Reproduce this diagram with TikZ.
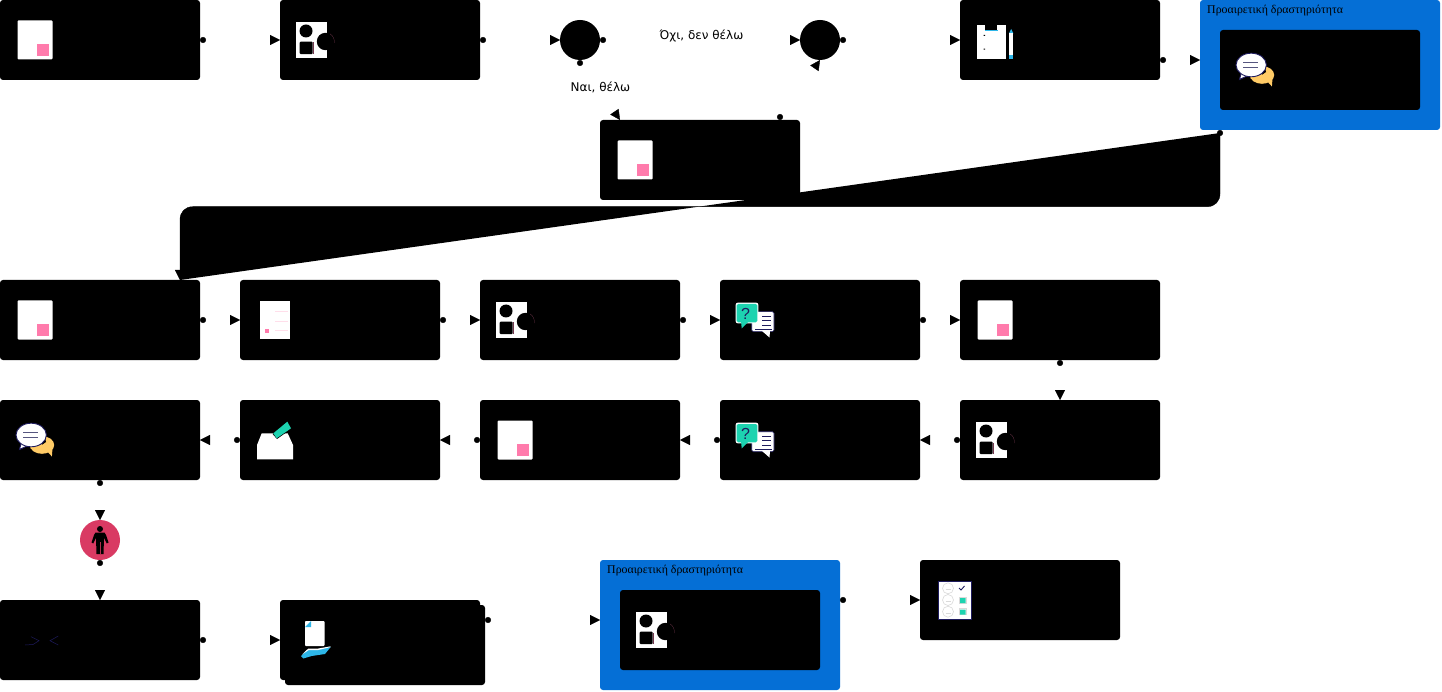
\documentclass[tikz,border=0pt]{standalone}
\usepackage{fontspec}
\setmainfont{Liberation Serif}
\newfontfamily\labelfont{DejaVu Sans}
\newfontfamily\qfont{Liberation Sans}
\usetikzlibrary{arrows.meta}
\definecolor{blueg}{HTML}{056FD6}
\definecolor{pinkq}{HTML}{FF7BAC}
\definecolor{tealq}{HTML}{1DD3B0}
\definecolor{navyq}{HTML}{1E1B5E}
\definecolor{slateq}{HTML}{55557F}
\definecolor{yelq}{HTML}{FFCB66}
\definecolor{skyq}{HTML}{2DB6E8}
\definecolor{roseq}{HTML}{D93A63}
\definecolor{faceq}{HTML}{DADADA}
\tikzset{
  box/.style={fill=black,rounded corners=3pt,minimum width=200pt,minimum height=80pt,inner sep=0pt,outer sep=0pt},
  disc/.style={circle,fill=black,minimum size=40pt,inner sep=0pt,outer sep=0pt},
  groupbox/.style={fill=blueg,rounded corners=3pt,inner sep=0pt,outer sep=0pt},
  grouplabel/.style={font=\fontsize{11.85}{14}\selectfont,text=black,inner sep=0pt,anchor=west},
  edgelabel/.style={font=\labelfont\fontsize{12}{14}\selectfont,text=black,inner sep=0pt},
  link/.style={draw=white,line width=.4pt,{Circle[black,length=6pt]}-{Triangle[black,length=10pt,width=10pt]}},
  biglink/.style={draw=black,line width=.4pt,{Circle[black,length=6pt]}-{Triangle[black,length=10pt,width=10pt]}},
}
% white sheet with a pink square
\newcommand{\icondoc}[2]{\begin{scope}[shift={(#1,#2)}]
  \fill[white,rounded corners=1pt] (17.5,20.5) rectangle (52.5,59.5);
  \fill[pinkq] (37,44) rectangle (49,55.8);
\end{scope}}
% sheet with circle and squares
\newcommand{\iconshapes}[2]{\begin{scope}[shift={(#1,#2)}]
  \fill[white] (15.7,21.7) rectangle (46.7,58.3);
  \fill[black] (26,31) circle (6.5);
  \draw[pinkq!45!black,line width=.25pt] (33,42.5) -- (33,54.4);
  \fill[black,rounded corners=1pt] (19.7,41.7) rectangle (32.7,54.2);
  \fill[black] (45.5,41.5) circle (8.7);
  \draw[pinkq!45!black,line width=.25pt] (54.2,43) arc (10:-60:8.8);
\end{scope}}
% two speech bubbles, white and yellow
\newcommand{\iconchat}[2]{\begin{scope}[shift={(#1,#2)}]
  \fill[yelq] (42,45) ellipse (12.2 and 8.8);
  \fill[yelq] (46,50) -- (51.9,56.5) -- (52.5,48) -- cycle;
  \fill[black] (24,39) -- (36,49) -- (46,42) -- (44,34) -- cycle;
  \fill[yelq] (30,48) -- (36,50) -- (42,50) -- (42,44) -- cycle;
  \fill[white,draw=navyq,line width=.9pt] (19.5,49.5) -- (21.5,42) -- (27,46) -- cycle;
  \fill[white,draw=navyq,line width=.9pt] (31.2,35) ellipse (15.2 and 11.8);
  \fill[white] (20.8,41) -- (26,45) -- (29,43) -- cycle;
  \draw[slateq,line width=1.3pt] (23.3,32.3) -- (38.3,32.3) (23.3,37.7) -- (38.3,37.7);
\end{scope}}
% question bubble and text bubble
\newcommand{\iconquest}[3]{\begin{scope}[shift={(#1,#2)}]
  \fill[white,draw=navyq,line width=.6pt,rounded corners=1.5pt] (31.7,31.7) rectangle (54,51.7);
  \fill[white] (42,51) -- (49.5,57.5) -- (50,51) -- cycle;
  \draw[navyq,line width=.9pt] (42,36) -- (51,36) (42,40.6) -- (51,40.6) (42,45) -- (51,45) (35,49) -- (51.7,49);
  \fill[white,rounded corners=2pt] (15.7,22.7) rectangle (38.3,43.3);
  \fill[tealq,rounded corners=1.5pt] (16.7,24) rectangle (37.3,42.3);
  \fill[tealq] (21,41) -- (21.7,48.3) -- (28,42) -- cycle;
  \node[font=\qfont\fontsize{16}{18}\selectfont,text=navyq,inner sep=0pt] (#3) at (25.5,33.5) {?};
\end{scope}}
\begin{document}
\begin{tikzpicture}[x=1pt,y=-1pt]
\useasboundingbox (0,0) rectangle (1442,692);
\fill[white] (0,0) rectangle (1442,692);
% row 1
\node[box] (b1) at (100,40) {};
\node[box] (b2) at (380,40) {};
\node[disc] (c1) at (580,40) {};
\node[disc] (c2) at (820,40) {};
\node[box] (b3) at (1060,40) {};
\node[groupbox,minimum width=240pt,minimum height=130pt] (g1) at (1320,65) {};
\node[box] (g1b) at (1320,70) {};
\node[box] (b4) at (700,160) {};
% row 2
\node[box] (b5) at (100,320) {};
\node[box] (b6) at (340,320) {};
\node[box] (b7) at (580,320) {};
\node[box] (b8) at (820,320) {};
\node[box] (b9) at (1060,320) {};
% row 3
\node[box] (b10) at (1060,440) {};
\node[box] (b11) at (820,440) {};
\node[box] (b12) at (580,440) {};
\node[box] (b13) at (340,440) {};
\node[box] (b14) at (100,440) {};
% person
\node[disc,fill=roseq] (p1) at (100,540) {};
% row 4
\node[box] (b15) at (100,640) {};
\node[box] (b16b) at (385,645) {};
\node[box] (b16) at (380,640) {};
\node[groupbox,minimum width=240pt,minimum height=130pt] (g2) at (720,625) {};
\node[box] (g2b) at (720,630) {};
\node[box] (b17) at (1020,600) {};
% big filled connector
\coordinate (bs) at (1220,130);
\coordinate (bt) at (180,280);
\fill (1220,133) -- (1220,193.7) [rounded corners=0pt] .. controls (1220,201) and (1215,206.7) .. (1207,206.7) -- (193,206.7) .. controls (185,206.7) and (180,212) .. (180,220) -- (bt) -- cycle;
\draw[biglink] (bs) -- (1220,193.7) .. controls (1220,201) and (1215,206.7) .. (1207,206.7) -- (193,206.7) .. controls (185,206.7) and (180,212) .. (180,220) -- (bt);
% icons
\icondoc{0}{0}
\iconshapes{280}{0}
\begin{scope}[shift={(960,0)}]
  \fill[white] (16.7,25) rectangle (46,59.3);
  \fill[black] (25,25) rectangle (36.7,30);
  \fill[skyq] (25,30) rectangle (37.5,31);
  \fill[black] (23.5,35) rectangle (25,36) (23.5,48.6) rectangle (25,49.6);
  \fill[skyq] (49,33.3) -- (51.2,29) -- (53.3,33.3) -- cycle;
  \fill[white] (49,33.3) rectangle (53.3,55);
  \fill[skyq] (49,55) rectangle (53.3,59.3);
\end{scope}
\iconchat{1220}{30}
\icondoc{600}{120}
\icondoc{0}{280}
\begin{scope}[shift={(240,280)}]
  \fill[white] (19.6,20.7) rectangle (50.4,59.3);
  \fill[pinkq] (24.7,49) rectangle (29,52.7);
  \draw[pinkq!25,line width=.3pt] (35,31.5) -- (48,31.5) (35,41) -- (48,41) (35,50) -- (48,50);
\end{scope}
\iconshapes{480}{280}
\iconquest{720}{280}{q1}
\icondoc{960}{280}
\iconshapes{960}{400}
\iconquest{720}{400}{q2}
\icondoc{480}{400}
\begin{scope}[shift={(240,400)}]
  \fill[white] (21.7,33.3) -- (47.7,33.3) -- (53,45) -- (53,59.3) -- (17,59.3) -- (17,45) -- cycle;
  \fill[black] (32.6,34) -- (47.8,21) -- (51.8,28.5) -- (37,39) -- cycle;
  \fill[tealq] (33.3,33.3) -- (47.3,21.7) -- (51,28.3) -- (36.7,38.3) -- cycle;
\end{scope}
\iconchat{0}{400}
% person
\begin{scope}[shift={(0,0)}]
  \fill[black] (100,529) circle (3);
  \fill[black] (95.5,532.5) -- (104.5,532.5) -- (106,535) -- (108.5,542.5) -- (106.8,543.5) -- (104,538) -- (103.5,554) -- (96.5,554) -- (96,538) -- (93.2,543.5) -- (91.5,542.5) -- (94,535) -- cycle;
  \draw[roseq!80!black,line width=.6pt] (100,542) -- (100,554);
\end{scope}
\draw[navyq,line width=.5pt] (25,645) -- (33,644.5) -- (39,640.7) -- (31,636.7);
\draw[navyq,line width=.5pt] (58.3,636) -- (50,640.7) -- (58.3,645);
% hand and document
\fill[white,rounded corners=.8pt] (305,621) rectangle (324.5,646);
\fill[skyq] (305,627) -- (311,621) -- (311,627) -- cycle;
\fill[skyq] (301,656) -- (308.3,649.3) -- (318.3,649.3) -- (330.7,647) -- (325,654) -- (311.7,656) -- (303.3,658.5) -- cycle;
\fill[white] (302,654.5) -- (308.3,648.5) -- (318.3,648.5) -- (330.7,646.3) -- (330.2,647.2) -- (318.3,650) -- (308.8,650) -- cycle;
\iconshapes{620}{590}
% rating list
\fill[white,draw=navyq,line width=.8pt] (938.5,581) rectangle (971.5,619);
\draw[faceq,line width=.6pt] (948,588.3) circle (5.5) (948,600) circle (5.5) (948,611.7) circle (5.5);
\draw[faceq,line width=.5pt] (945.5,589.5) -- (950.5,589.5) (945.5,601.2) -- (950.5,601.2) (945.5,612.9) -- (950.5,612.9);
\draw[navyq,line width=.9pt] (959,588) -- (961,590) -- (964.5,586);
\draw[faceq,line width=.4pt] (959.5,597) rectangle (965.7,603) (959.5,608.5) rectangle (965.7,614.5);
\fill[tealq] (960,598) rectangle (965.7,603) (960,609.5) rectangle (965.7,614.5);
% connectors
\draw[link] (b1.east) -- (b2.west);
\draw[link] (b2.east) -- (c1.west);
\draw[link] (c1.east) -- (c2.west);
\draw[link] (c2.east) -- (b3.west);
\draw[link] ([yshift=-20pt]b3.east) -- ([yshift=5pt]g1.west);
\draw[link] (c1.south) to[out=-90,in=124] ([xshift=-80pt]b4.north);
\draw[link] ([xshift=80pt]b4.north) to[out=90,in=236] (c2.south);
\draw[link] (b5.east) -- (b6.west);
\draw[link] (b6.east) -- (b7.west);
\draw[link] (b7.east) -- (b8.west);
\draw[link] (b8.east) -- (b9.west);
\draw[link] (b9.south) -- (b10.north);
\draw[link] (b10.west) -- (b11.east);
\draw[link] (b11.west) -- (b12.east);
\draw[link] (b12.west) -- (b13.east);
\draw[link] (b13.west) -- (b14.east);
\draw[link] (b14.south) -- (p1.north);
\draw[link] (p1.south) -- (b15.north);
\draw[link] (b15.east) -- (b16.west);
\draw[link] ([yshift=25pt]b16b.east) -- ([yshift=5pt]g2.west);
\draw[link] ([yshift=25pt]g2.east) -- (b17.west);
% labels
\node[grouplabel] (g1t) at (1207,10.5) {Προαιρετική δραστηριότητα};
\node[grouplabel] (g2t) at (607,570.5) {Προαιρετική δραστηριότητα};
\node[edgelabel] (l1) at (701.5,35.5) {Όχι, δεν θέλω};
\node[edgelabel] (l2) at (600.5,87.5) {Ναι, θέλω};
\end{tikzpicture}
\end{document}
